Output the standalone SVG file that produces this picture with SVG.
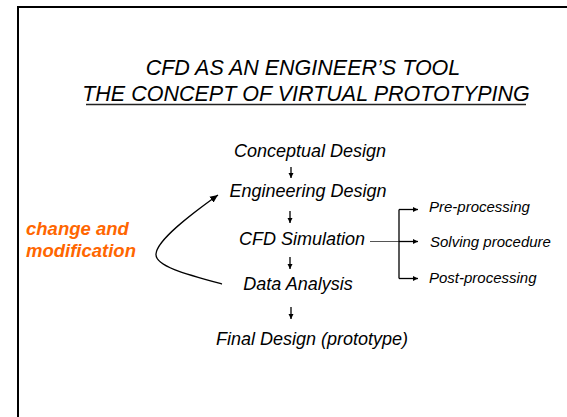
<svg xmlns="http://www.w3.org/2000/svg" width="567" height="417" viewBox="0 0 567 417">
<style>
  text { font-family: "Liberation Sans", Arial, sans-serif; font-style: italic; fill: #000; }
  .title { font-size: 21.5px; text-anchor: middle; }
  .node { font-size: 18px; text-anchor: middle; }
  .sub { font-size: 15px; }
  .note { font-size: 18.5px; font-weight: bold; fill: #FF6600; }
  .conn { stroke: #000; fill: none; stroke-width: 1.3; }
</style>
<defs>
  <marker id="ah" markerWidth="6" markerHeight="6" refX="5" refY="3" orient="auto" markerUnits="userSpaceOnUse">
    <path d="M0,0.5 L5,3 L0,5.5 Z" fill="#000"/>
  </marker>
  <marker id="ahc" markerWidth="9" markerHeight="8" refX="8" refY="4" orient="auto" markerUnits="userSpaceOnUse">
    <path d="M0,0.5 L8,4 L0,7.5 Z" fill="#000"/>
  </marker>
</defs>
<rect width="567" height="417" fill="#fff"/>
<path d="M18,420 V7 H570" fill="none" stroke="#000" stroke-width="2"/>

<g id="title">
  <text class="title" x="303" y="75">CFD AS AN ENGINEER’S TOOL</text>
  <text class="title" x="306" y="101">THE CONCEPT OF VIRTUAL PROTOTYPING</text>
  <line x1="86" y1="104.5" x2="526" y2="104.5" stroke="#222" stroke-width="1.4"/>
</g>

<g id="conceptual-design"><text class="node" x="310" y="157">Conceptual Design</text></g>
<g id="engineering-design"><text class="node" x="308" y="197">Engineering Design</text></g>
<g id="cfd-simulation"><text class="node" x="302" y="245">CFD Simulation</text></g>
<g id="data-analysis"><text class="node" x="298" y="290">Data Analysis</text></g>
<g id="final-design"><text class="node" x="312" y="345">Final Design (prototype)</text></g>

<g id="pre-processing"><text class="sub" x="429" y="212">Pre-processing</text></g>
<g id="solving-procedure"><text class="sub" x="430" y="247">Solving procedure</text></g>
<g id="post-processing"><text class="sub" x="429" y="283">Post-processing</text></g>

<g id="change-note">
  <text class="note" x="26" y="235">change and</text>
  <text class="note" x="26" y="257">modification</text>
</g>

<g id="connectors">
  <line class="conn" x1="291" y1="167" x2="291" y2="178" marker-end="url(#ah)"/>
  <line class="conn" x1="290" y1="211" x2="290" y2="223" marker-end="url(#ah)"/>
  <line class="conn" x1="290" y1="257" x2="290" y2="269" marker-end="url(#ah)"/>
  <line class="conn" x1="291" y1="307" x2="291" y2="319" marker-end="url(#ah)"/>
  <line x1="370" y1="241.5" x2="399" y2="241.5" stroke="#555" stroke-width="1"/>
  <path class="conn" d="M399,209.5 V278.5"/>
  <line class="conn" x1="399" y1="209.5" x2="418" y2="209.5" marker-end="url(#ah)"/>
  <line class="conn" x1="399" y1="241.5" x2="418" y2="241.5" marker-end="url(#ah)"/>
  <line class="conn" x1="399" y1="278.5" x2="418" y2="278.5" marker-end="url(#ah)"/>
  <path class="conn" stroke-width="1.6" d="M222,284 C185,274 155,266 156,254 C157,240 190,215 218,195" marker-end="url(#ahc)"/>
</g>
</svg>
